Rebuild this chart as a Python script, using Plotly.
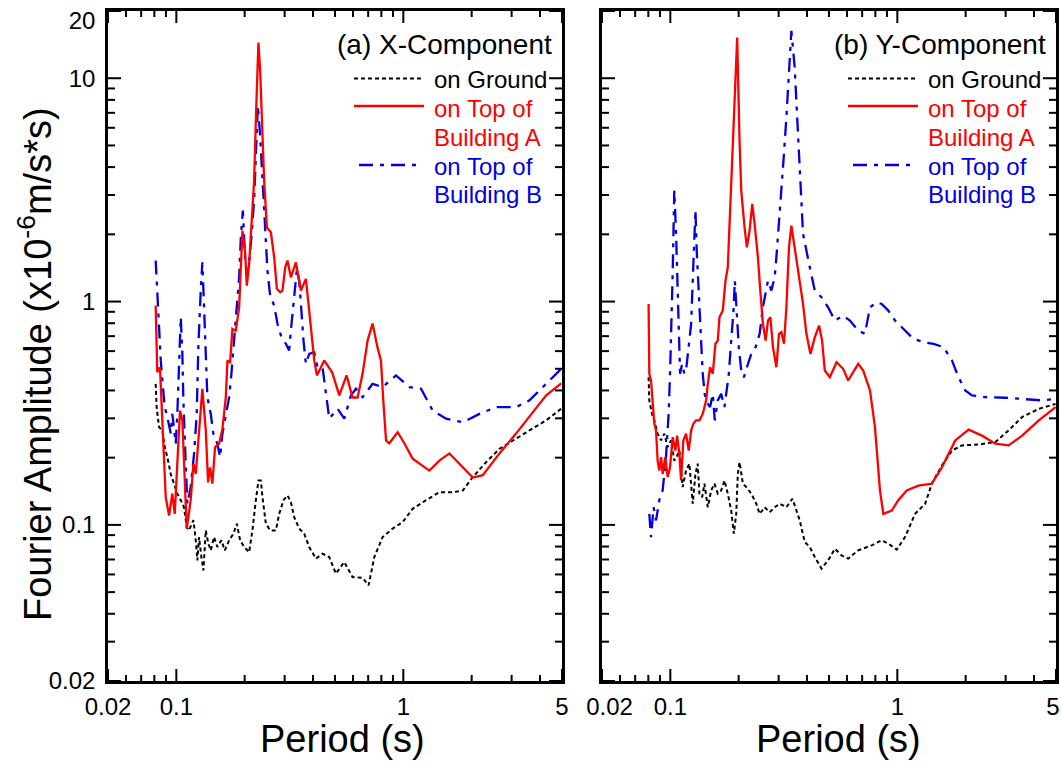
import math
import plotly.graph_objects as go

W, H = 1061, 761
FONT = "Liberation Sans, Arial, Helvetica, sans-serif"

# ---------------- Panel (a) X-Component ----------------
a_ground_T = [0.0811, 0.0819, 0.0839, 0.0868, 0.0889, 0.0913, 0.0945, 0.0977, 0.101, 0.1046,
              0.1081, 0.1111, 0.1137, 0.1189, 0.1218, 0.1238, 0.1259, 0.1289, 0.1316, 0.1348,
              0.1384, 0.1418, 0.1466, 0.1516, 0.1579, 0.1635, 0.1708, 0.1784, 0.1847, 0.191,
              0.199, 0.2093, 0.2164, 0.224, 0.230, 0.2357, 0.2396, 0.248, 0.259, 0.2745,
              0.2838, 0.2965, 0.3088, 0.3196, 0.3306, 0.3478, 0.3659, 0.3849, 0.412, 0.4406,
              0.4717, 0.5048, 0.5493, 0.5975, 0.6615, 0.703, 0.7449, 0.8101, 0.897, 0.9929,
              1.099, 1.259, 1.441, 1.651, 1.827, 2.022, 2.316, 2.652, 3.036, 3.596, 4.26, 4.96]
a_ground_V = [0.428, 0.337, 0.274, 0.265, 0.223, 0.201, 0.169, 0.153, 0.138, 0.129,
              0.120, 0.0977, 0.0945, 0.105, 0.0853, 0.0694, 0.0882, 0.0718, 0.0626, 0.0945,
              0.0824, 0.0769, 0.0882, 0.0796, 0.0853, 0.0769, 0.0853, 0.0913, 0.1012, 0.0853,
              0.0796, 0.0755, 0.0945, 0.129, 0.158, 0.158, 0.133, 0.1012, 0.0945, 0.0945,
              0.112, 0.129, 0.1355, 0.1265, 0.1083, 0.0962, 0.0913, 0.0796, 0.0706, 0.0743,
              0.0718, 0.0605, 0.0682, 0.0584, 0.058, 0.0536, 0.0718, 0.0882, 0.0962, 0.1029,
              0.118, 0.129, 0.140, 0.140, 0.1426, 0.1636, 0.191, 0.219, 0.239, 0.265, 0.294, 0.331]

a_bldA_T = [0.0811, 0.0824, 0.0847, 0.0868, 0.0898, 0.0929, 0.096, 0.0984, 0.101, 0.1038,
            0.1063, 0.1089, 0.1111, 0.1157, 0.1189, 0.1218, 0.1247, 0.1302, 0.1348, 0.138,
            0.1408, 0.1441, 0.1481, 0.1543, 0.1596, 0.1652, 0.1679, 0.1726, 0.1766, 0.1828,
            0.1891, 0.1924, 0.1955, 0.2009, 0.2044, 0.2093, 0.2142, 0.2201, 0.2254, 0.230,
            0.234, 0.2388, 0.2437, 0.2505, 0.2609, 0.2698, 0.2773, 0.2867, 0.2935, 0.3017,
            0.3088, 0.3196, 0.3362, 0.3538, 0.3722, 0.3916, 0.405, 0.4163, 0.4482, 0.4863,
            0.5222, 0.5622, 0.5975, 0.6287, 0.6615, 0.6959, 0.7319, 0.770, 0.797, 0.816,
            0.839, 0.867, 0.944, 1.010, 1.099, 1.302, 1.441, 1.596, 1.766, 2.022,
            2.238, 2.652, 3.142, 3.707, 4.26, 4.96]
a_bldA_V = [0.96, 0.483, 0.508, 0.294, 0.133, 0.110, 0.138, 0.112, 0.188, 0.325,
            0.294, 0.158, 0.0962, 0.129, 0.188, 0.169, 0.239, 0.407, 0.265, 0.155,
            0.181, 0.153, 0.223, 0.231, 0.269, 0.373, 0.545, 0.535, 0.755, 0.741,
            0.943, 1.475, 2.078, 1.662, 1.179, 1.475, 2.149, 3.478, 7.93, 14.46,
            10.8, 5.82, 3.478, 2.149, 2.042, 1.578, 1.14, 1.10, 1.12, 1.424,
            1.526, 1.284, 1.499, 1.12, 1.264, 0.767, 0.545, 0.467, 0.545, 0.481,
            0.380, 0.467, 0.372, 0.372, 0.476, 0.669, 0.797, 0.622, 0.545, 0.361,
            0.239, 0.232, 0.26, 0.232, 0.198, 0.175, 0.194, 0.209, 0.188, 0.163,
            0.167, 0.209, 0.257, 0.319, 0.38, 0.43]

a_bldB_T = [0.0811, 0.0824, 0.0839, 0.0854, 0.0868, 0.0889, 0.0913, 0.0945, 0.096, 0.0994,
            0.101, 0.1028, 0.1046, 0.1063, 0.1074, 0.110, 0.1118, 0.1157, 0.1197, 0.123,
            0.125, 0.1281, 0.1302, 0.1325, 0.1348, 0.137, 0.1418, 0.1456, 0.1516, 0.1559,
            0.1596, 0.1652, 0.1708, 0.1748, 0.1797, 0.1847, 0.1891, 0.1924, 0.1963, 0.2009,
            0.2044, 0.2093, 0.2142, 0.2201, 0.224, 0.2286, 0.234, 0.2396, 0.2455, 0.252,
            0.259, 0.2698, 0.279, 0.2905, 0.3038, 0.3141, 0.3196, 0.3282, 0.3397, 0.3478,
            0.3538, 0.3633, 0.3722, 0.3849, 0.405, 0.4188, 0.4406, 0.4717, 0.5132, 0.5493,
            0.588, 0.6185, 0.6615, 0.7319, 0.8101, 0.9285, 1.063, 1.197, 1.347, 1.543,
            1.827, 2.164, 2.564, 3.142, 3.596, 4.26, 4.96]
a_bldB_V = [1.526, 1.083, 0.742, 0.545, 0.443, 0.337, 0.304, 0.256, 0.314, 0.231,
            0.314, 0.526, 0.851, 0.583, 0.361, 0.188, 0.124, 0.148, 0.208, 0.314,
            0.625, 1.12, 1.499, 0.943, 0.583, 0.373, 0.314, 0.256, 0.231, 0.201,
            0.256, 0.314, 0.373, 0.475, 0.669, 0.911, 1.284, 1.94, 2.554, 1.578,
            1.33, 1.526, 1.94, 2.83, 4.74, 7.53, 5.53, 3.478, 2.227, 1.376,
            1.064, 0.96, 0.795, 0.692, 0.647, 0.604, 0.742, 1.01, 1.40, 1.24,
            0.943, 0.669, 0.526, 0.583, 0.593, 0.508, 0.508, 0.299, 0.331, 0.299,
            0.380, 0.407, 0.373, 0.428, 0.414, 0.467, 0.414, 0.407, 0.325, 0.299,
            0.288, 0.314, 0.337, 0.337, 0.361, 0.428, 0.50]

# ---------------- Panel (b) Y-Component ----------------
b_ground_T = [0.0802, 0.0808, 0.083, 0.085, 0.0879, 0.091, 0.0941, 0.0973, 0.1007, 0.1041,
              0.1066, 0.1096, 0.1133, 0.1173, 0.1213, 0.1255, 0.129, 0.132, 0.1343, 0.1381,
              0.1413, 0.1462, 0.1513, 0.1564, 0.1618, 0.1675, 0.1732, 0.1791, 0.1854, 0.1904,
              0.1951, 0.1983, 0.2018, 0.2087, 0.2161, 0.2273, 0.2391, 0.2474, 0.2603, 0.2739,
              0.2882, 0.3032, 0.3245, 0.345, 0.3594, 0.3716, 0.391, 0.4115, 0.4328, 0.4634,
              0.4955, 0.5306, 0.568, 0.6073, 0.6724, 0.7708, 0.8533, 0.9126, 0.994, 1.081,
              1.197, 1.326, 1.419, 1.571, 1.74, 1.926, 2.28, 2.703, 3.094, 3.546, 4.20, 4.98]
b_ground_V = [0.458, 0.361, 0.314, 0.294, 0.256, 0.239, 0.256, 0.223, 0.239, 0.194,
              0.201, 0.215, 0.1476, 0.175, 0.188, 0.1244, 0.169, 0.188, 0.138, 0.133,
              0.153, 0.120, 0.1426, 0.153, 0.138, 0.1426, 0.158, 0.138, 0.116, 0.0913,
              0.112, 0.169, 0.191, 0.153, 0.1476, 0.138, 0.1244, 0.112, 0.120, 0.114,
              0.120, 0.1244, 0.120, 0.131, 0.116, 0.1047, 0.0838, 0.0796, 0.0718, 0.0637,
              0.0694, 0.0782, 0.073, 0.0706, 0.0769, 0.081, 0.0853, 0.0824, 0.0775, 0.0882,
              0.112, 0.1244, 0.153, 0.1846, 0.215, 0.227, 0.229, 0.235, 0.265, 0.304, 0.331, 0.348]

b_bldA_T = [0.0802, 0.0808, 0.0822, 0.0835, 0.085, 0.0865, 0.0879, 0.0894, 0.091, 0.0925,
            0.095, 0.0973, 0.0997, 0.1024, 0.1052, 0.1071, 0.1096, 0.1115, 0.1141, 0.1173,
            0.1205, 0.1235, 0.1264, 0.1299, 0.1343, 0.1389, 0.1438, 0.1462, 0.1497, 0.1538,
            0.158, 0.1618, 0.1646, 0.1702, 0.175, 0.1791, 0.1835, 0.1884, 0.1928, 0.197,
            0.2018, 0.2053, 0.2123, 0.2174, 0.2234, 0.2296, 0.2351, 0.2431, 0.2491, 0.2557,
            0.2629, 0.2692, 0.2758, 0.2832, 0.2932, 0.3011, 0.3085, 0.3167, 0.3245, 0.3332,
            0.3414, 0.353, 0.3651, 0.3842, 0.3977, 0.4143, 0.4328, 0.4521, 0.4662, 0.4792,
            0.5042, 0.5399, 0.5772, 0.6073, 0.6724, 0.7076, 0.7577, 0.7969, 0.8385, 0.8675,
            0.9447, 1.010, 1.100, 1.238, 1.419, 1.571, 1.799, 2.06, 2.36, 2.703,
            3.094, 3.546, 4.20, 4.98]
b_bldA_V = [0.976, 0.475, 0.443, 0.361, 0.284, 0.265, 0.194, 0.175, 0.201, 0.169,
            0.201, 0.164, 0.181, 0.247, 0.215, 0.251, 0.208, 0.158, 0.239, 0.256,
            0.215, 0.265, 0.284, 0.294, 0.294, 0.314, 0.361, 0.428, 0.508, 0.475,
            0.647, 0.669, 0.851, 0.911, 1.24, 1.424, 2.642, 4.42, 8.79, 15.2,
            5.25, 3.14, 2.149, 1.75, 2.078, 2.736, 2.227, 1.578, 1.12, 0.795,
            0.669, 0.822, 0.851, 0.625, 0.508, 0.717, 0.729, 0.647, 0.943, 1.75,
            2.188, 1.75, 1.33, 0.976, 0.717, 0.583, 0.692, 0.781, 0.669, 0.491,
            0.458, 0.535, 0.50, 0.443, 0.526, 0.491, 0.40, 0.274, 0.1426, 0.112,
            0.116, 0.129, 0.1426, 0.150, 0.153, 0.181, 0.239, 0.267, 0.251, 0.231,
            0.227, 0.251, 0.294, 0.337]

b_bldB_T = [0.0808, 0.0822, 0.0844, 0.0865, 0.0894, 0.0925, 0.0957, 0.0983, 0.0997, 0.1013,
            0.1024, 0.1034, 0.1041, 0.106, 0.1077, 0.1088, 0.1104, 0.1127, 0.1153, 0.1173,
            0.1205, 0.1235, 0.1255, 0.1277, 0.129, 0.1307, 0.1334, 0.1357, 0.1389, 0.1428,
            0.1462, 0.1497, 0.1538, 0.157, 0.1618, 0.1675, 0.1732, 0.1774, 0.181, 0.1854,
            0.1898, 0.1924, 0.1963, 0.2003, 0.2053, 0.2108, 0.2174, 0.2273, 0.2375, 0.2474,
            0.2557, 0.2692, 0.2786, 0.2882, 0.2932, 0.3011, 0.3085, 0.3158, 0.3245, 0.3332,
            0.3414, 0.353, 0.3651, 0.3842, 0.4115, 0.4328, 0.4634, 0.4955, 0.5306, 0.5772,
            0.618, 0.6724, 0.72, 0.7577, 0.811, 0.8533, 0.9126, 0.9768, 1.081, 1.177,
            1.303, 1.443, 1.597, 1.74, 1.861, 1.992, 2.133, 2.442, 2.991, 3.667, 4.346, 4.98]
b_bldB_V = [0.112, 0.0882, 0.120, 0.1047, 0.129, 0.1426, 0.201, 0.314, 0.475, 0.795,
            1.33, 2.227, 3.14, 2.009, 1.12, 0.717, 0.475, 0.526, 0.475, 0.491,
            0.625, 0.795, 1.24, 1.875, 2.57, 1.691, 1.12, 0.795, 0.475, 0.361,
            0.348, 0.337, 0.386, 0.294, 0.361, 0.386, 0.337, 0.414, 0.475, 0.669,
            0.911, 1.24, 0.881, 0.625, 0.491, 0.458, 0.508, 0.583, 0.625, 0.717,
            0.943, 1.24, 1.12, 1.284, 1.578, 2.227, 3.14, 4.42, 6.68, 10.8,
            16.3, 11.2, 5.63, 2.009, 1.424, 1.12, 1.045, 0.943, 0.822, 0.866,
            0.822, 0.742, 0.717, 0.943, 0.993, 0.976, 0.911, 0.822, 0.742, 0.681,
            0.658, 0.647, 0.625, 0.545, 0.458, 0.40, 0.380, 0.373, 0.371, 0.367, 0.361, 0.367]

# tick marks (major / minor) and tick labels
x_tick_vals = [0.05, 0.1, 1, 5]
x_minor_vals = [0.06, 0.07, 0.08, 0.09, 0.2, 0.3, 0.4, 0.5, 0.6, 0.7, 0.8, 0.9, 2, 3, 4]
x_label_pos_a = [0.05, 0.1, 1, 5]
x_label_pos_b = [0.054, 0.1, 1, 4.85]
x_tick_text = ["0.02", "0.1", "1", "5"]
y_tick_vals = [0.02, 0.1, 1, 10, 20]
y_minor_vals = [0.03, 0.04, 0.05, 0.06, 0.07, 0.08, 0.09,
                0.2, 0.3, 0.4, 0.5, 0.6, 0.7, 0.8, 0.9,
                2, 3, 4, 5, 6, 7, 8, 9]
y_label_pos = [0.02, 0.1, 1, 10, 18.2]
y_tick_text = ["0.02", "0.1", "1", "10", "20"]

RED = "#ff0000"
BLUE = "#0000e0"
BLACK = "#000000"
ground_line = dict(color=BLACK, width=2, dash="4px,3px")
a_line = dict(color=RED, width=2.3)
b_line = dict(color=BLUE, width=2.3, dash="14px,7px,4px,7px")

fig = go.Figure()
panels = [
    ("x", "y", a_ground_T, a_ground_V, a_bldA_T, a_bldA_V, a_bldB_T, a_bldB_V),
    ("x2", "y2", b_ground_T, b_ground_V, b_bldA_T, b_bldA_V, b_bldB_T, b_bldB_V),
]
for xa, ya, gT, gV, aT, aV, bT, bV in panels:
    fig.add_trace(go.Scatter(x=gT, y=gV, mode="lines", line=ground_line, xaxis=xa, yaxis=ya,
                             showlegend=False, name="on Ground"))
    fig.add_trace(go.Scatter(x=bT, y=bV, mode="lines", line=b_line, xaxis=xa, yaxis=ya,
                             showlegend=False, name="on Top of Building B"))
    fig.add_trace(go.Scatter(x=aT, y=aV, mode="lines", line=a_line, xaxis=xa, yaxis=ya,
                             showlegend=False, name="on Top of Building A"))


def px(x):
    return x / W


def py(y):
    return 1 - y / H


PLOT_L, PLOT_R, PLOT_T, PLOT_B = 108, 562, 11, 681
PW, PH = PLOT_R - PLOT_L, PLOT_B - PLOT_T
PANEL_DX = 494

tickfont = dict(family=FONT, size=24, color="black")
base = dict(type="log", showline=True, linewidth=2.5, linecolor="black", mirror=True,
            ticks="", showgrid=False, zeroline=False, tickfont=tickfont, tickmode="array",
            automargin=False, ticklabeloverflow="allow")
XR = [math.log10(0.05), math.log10(5)]
YR = [math.log10(0.02), math.log10(20)]
y_axis = dict(base, range=YR, tickvals=y_label_pos, ticktext=y_tick_text, ticklabelstandoff=5)
ydom = [py(PLOT_B), py(PLOT_T)]

fig.update_layout(
    width=W, height=H, margin=dict(l=0, r=0, t=0, b=0),
    paper_bgcolor="white", plot_bgcolor="white",
    font=dict(family=FONT, color="black"),
    showlegend=False,
    xaxis=dict(base, range=XR, tickvals=x_label_pos_a, ticktext=x_tick_text, ticklabelstandoff=2,
               domain=[px(PLOT_L), px(PLOT_R)], anchor="y"),
    yaxis=dict(y_axis, domain=ydom, anchor="x"),
    xaxis2=dict(base, range=XR, tickvals=x_label_pos_b, ticktext=x_tick_text, ticklabelstandoff=2,
                domain=[px(PLOT_L + PANEL_DX), px(PLOT_R + PANEL_DX)], anchor="y2"),
    yaxis2=dict(y_axis, domain=ydom, anchor="x2", showticklabels=False),
)

shapes = []
# inside tick marks on all four sides, placed through each panel's own log axes (data values)
tick_line = dict(color="black", width=2)
for xa, ya in (("x", "y"), ("x2", "y2")):
    for vals, ln in ((x_tick_vals, 12), (x_minor_vals, 6)):
        for v in vals:
            for y0, y1 in ((0, ln / PH), (1, 1 - ln / PH)):
                shapes.append(dict(type="line", xref=xa, yref=ya + " domain", x0=v, x1=v,
                                   y0=y0, y1=y1, line=tick_line, layer="above"))
    for vals, ln in ((y_tick_vals, 13), (y_minor_vals, 7)):
        for v in vals:
            for x0, x1 in ((0, ln / PW), (1, 1 - ln / PW)):
                shapes.append(dict(type="line", xref=xa + " domain", yref=ya, x0=x0, x1=x1,
                                   y0=v, y1=v, line=tick_line, layer="above"))

ann = []
# axis titles
ann.append(dict(text="Fourier Amplitude (x10<sup>-6</sup>m/s*s)", x=px(35), y=py(364),
                xref="paper", yref="paper", xanchor="center", yanchor="middle",
                textangle=-90, showarrow=False, font=dict(family=FONT, size=38, color="black")))
for cx in (342, 838):
    ann.append(dict(text="Period (s)", x=px(cx), y=py(739), xref="paper", yref="paper",
                    xanchor="center", yanchor="middle", showarrow=False,
                    font=dict(family=FONT, size=38, color="black")))

titles = ["(a) X-Component", "(b) Y-Component"]
for i, dx in enumerate((0, PANEL_DX)):
    ann.append(dict(text=titles[i], x=px(554 + dx), y=py(44), xref="paper", yref="paper",
                    xanchor="right", yanchor="middle", showarrow=False,
                    font=dict(family=FONT, size=28, color="black")))
    items = [("on Ground", BLACK, 80), ("on Top of", RED, 108), ("Building A", RED, 137),
             ("on Top of", BLUE, 166), ("Building B", BLUE, 195)]
    for txt, col, yy in items:
        ann.append(dict(text=txt, x=px(432 + dx), y=py(yy), xref="paper", yref="paper",
                        xanchor="left", yanchor="middle", showarrow=False,
                        font=dict(family=FONT, size=24, color=col)))
    for (x0, x1, yy, ln) in [(354, 424, 78.5, ground_line), (354, 424, 106, a_line),
                             (359, 416, 165, b_line)]:
        shapes.append(dict(type="line", xref="paper", yref="paper",
                           x0=px(x0 + dx), x1=px(x1 + dx), y0=py(yy), y1=py(yy),
                           line=ln))

fig.update_layout(annotations=ann, shapes=shapes)
fig.write_html("out.html")
